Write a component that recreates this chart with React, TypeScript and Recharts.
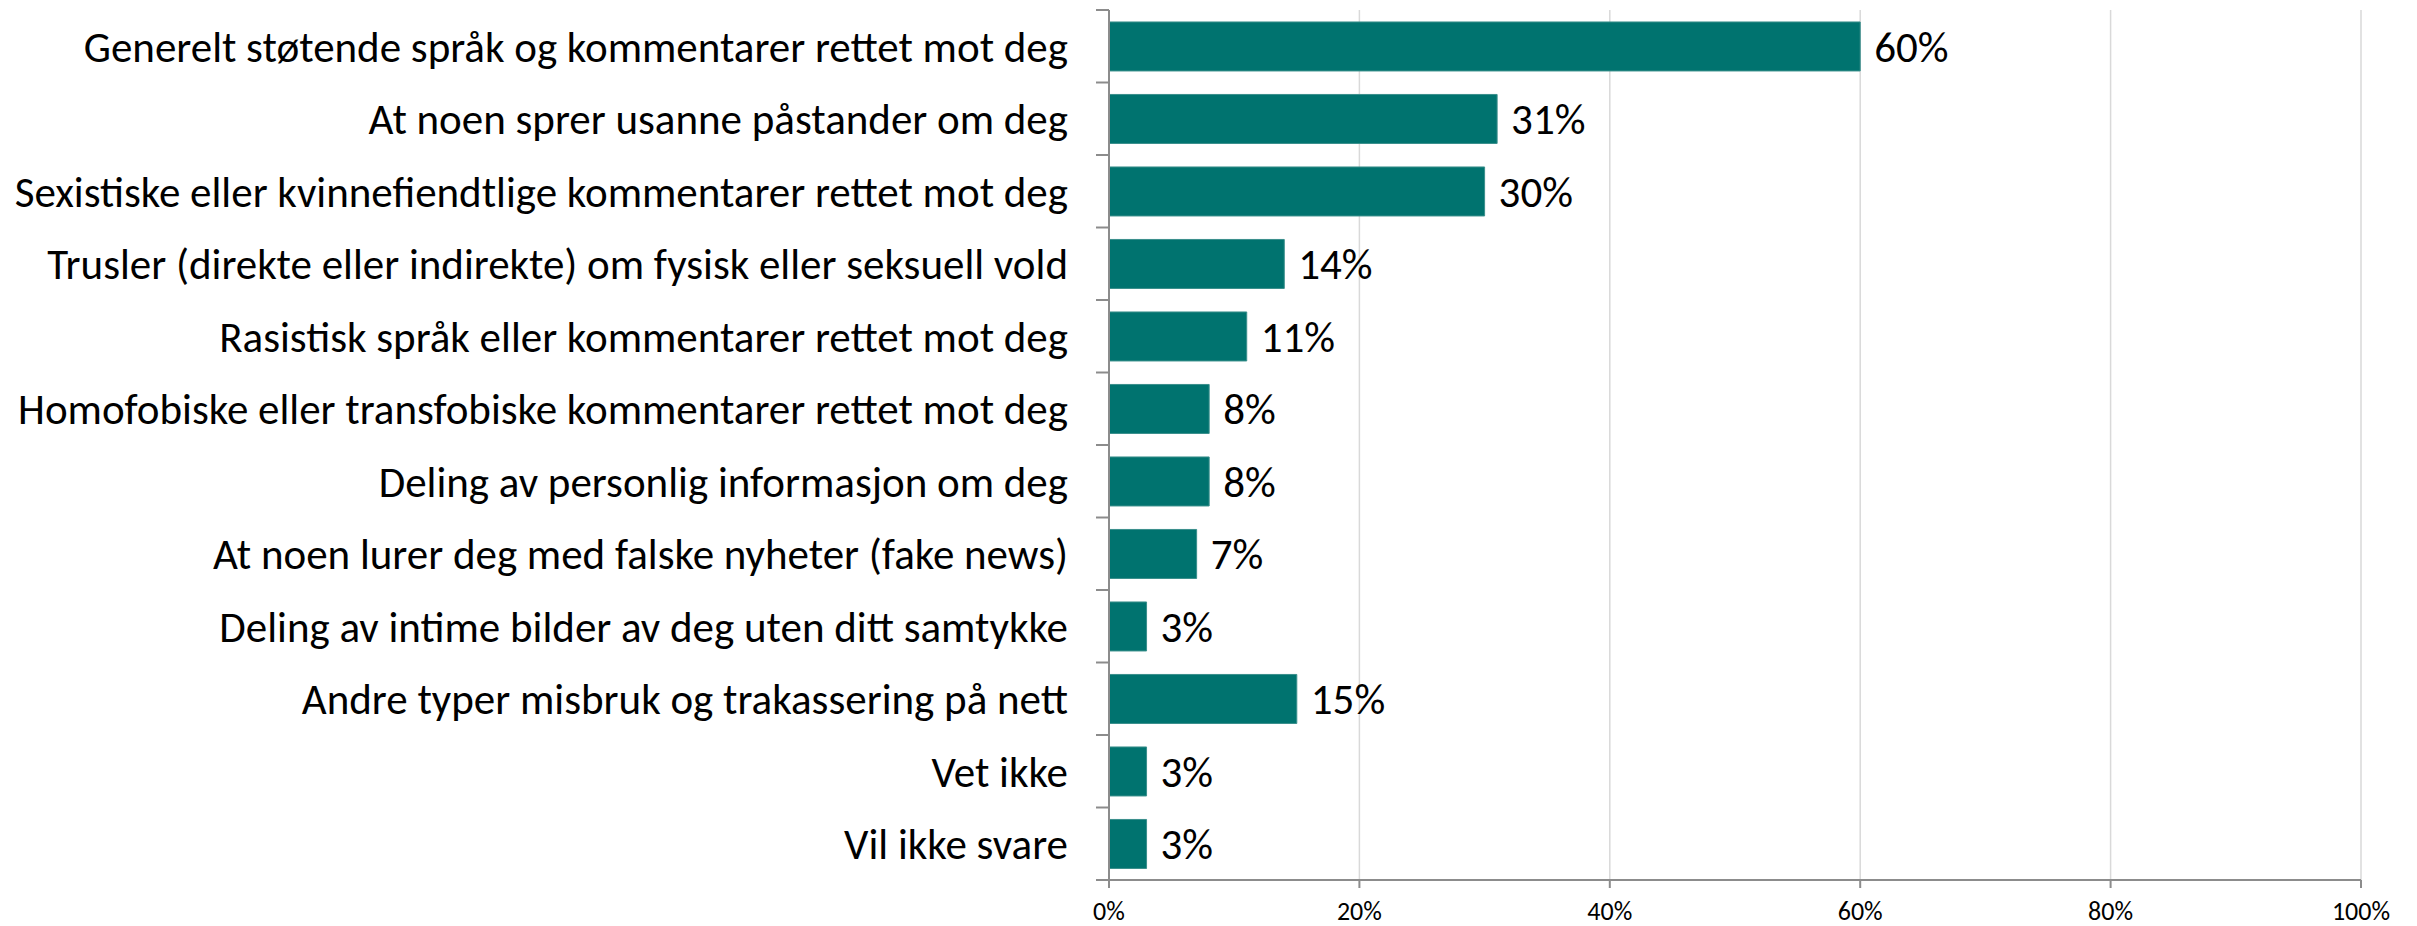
import React from "react";
import { BarChart, Bar, XAxis, YAxis, CartesianGrid, LabelList } from "recharts";

const categories = [
  "Generelt støtende språk og kommentarer rettet mot deg",
  "At noen sprer usanne påstander om deg",
  "Sexistiske eller kvinnefiendtlige kommentarer rettet mot deg",
  "Trusler (direkte eller indirekte) om fysisk eller seksuell vold",
  "Rasistisk språk eller kommentarer rettet mot deg",
  "Homofobiske eller transfobiske kommentarer rettet mot deg",
  "Deling av personlig informasjon om deg",
  "At noen lurer deg med falske nyheter (fake news)",
  "Deling av intime bilder av deg uten ditt samtykke",
  "Andre typer misbruk og trakassering på nett",
  "Vet ikke",
  "Vil ikke svare",
];
const shares = [60, 31, 30, 14, 11, 8, 8, 7, 3, 15, 3, 3];
const xTicks = [0, 20, 40, 60, 80, 100];

const data = categories.map((name, i) => ({ name, value: shares[i] }));

const FONT = "Carlito, Calibri, Lato, sans-serif";
const AXIS = "#8c8c8c";
const BAR = "#00736f";
const TICK_SIZE = 13;
const TICK_MARGIN = 28;

function CategoryTick(props: any) {
  const { x, y, payload, index, visibleTicksCount } = props;
  const half = payload?.offset || 36;
  const axisX = x + TICK_SIZE + TICK_MARGIN;
  const isLast = index === (visibleTicksCount ?? categories.length) - 1;
  return (
    <g>
      <line x1={axisX - TICK_SIZE} x2={axisX} y1={y - half} y2={y - half} stroke={AXIS} strokeWidth={2} />
      {isLast && (
        <line x1={axisX - TICK_SIZE} x2={axisX} y1={y + half} y2={y + half} stroke={AXIS} strokeWidth={2} />
      )}
      <text x={x} y={y} dy="0.355em" textAnchor="end" fill="#000" fontSize={43} fontFamily={FONT}>
        {payload.value}
      </text>
    </g>
  );
}

export default function App() {
  return (
    <div style={{ position: "absolute", left: 0, top: 0, width: 2417, height: 926, background: "#fff" }}>
      <BarChart
        width={2417}
        height={926}
        data={data}
        layout="vertical"
        margin={{ top: 10, right: 56, bottom: 0, left: 0 }}
        barCategoryGap="16.5%"
      >
        <CartesianGrid horizontal={false} stroke="#d9d9d9" strokeWidth={1.5} />
        <XAxis
          type="number"
          domain={[0, 100]}
          ticks={xTicks}
          tickFormatter={(v: number) => `${v}%`}
          height={46}
          tickSize={8}
          tickMargin={14}
          axisLine={{ stroke: AXIS, strokeWidth: 2 }}
          tickLine={{ stroke: AXIS, strokeWidth: 2 }}
          tick={{ fill: "#000", fontSize: 26, fontFamily: FONT }}
          interval={0}
        />
        <YAxis
          type="category"
          dataKey="name"
          width={1109}
          tickSize={TICK_SIZE}
          tickMargin={TICK_MARGIN}
          tickLine={false}
          axisLine={{ stroke: AXIS, strokeWidth: 2 }}
          tick={<CategoryTick />}
          interval={0}
        />
        <Bar dataKey="value" fill={BAR} stroke="#3a8f8c" strokeWidth={1} isAnimationActive={false}>
          <LabelList
            dataKey="value"
            position="right"
            offset={14}
            formatter={(v: any) => `${v}%`}
            fill="#000"
            fontSize={43}
            fontFamily={FONT}
          />
        </Bar>
      </BarChart>
    </div>
  );
}
